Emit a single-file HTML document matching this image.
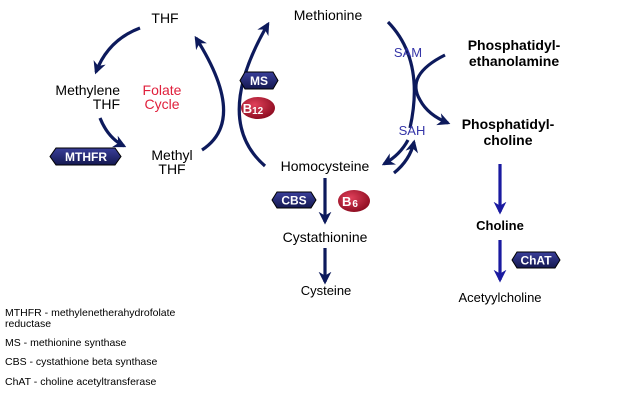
<!DOCTYPE html>
<html><head><style>
body{margin:0;background:#fff;}
svg text{font-family:"Liberation Sans",sans-serif;}
</style></head><body>
<svg width="642" height="401" viewBox="0 0 642 401" xmlns="http://www.w3.org/2000/svg">
<defs>
<marker id="a" viewBox="0 0 10 10" refX="8" refY="5" markerWidth="4" markerHeight="4" orient="auto"><path d="M0,0 L10,5 L0,10 L3,5z" fill="#0d1a5c"/></marker>
<marker id="b" viewBox="0 0 10 10" refX="8" refY="5" markerWidth="4" markerHeight="4" orient="auto"><path d="M0,0 L10,5 L0,10 L3,5z" fill="#1a1aa0"/></marker>
<radialGradient id="r" cx="0.4" cy="0.35" r="0.7"><stop offset="0" stop-color="#e0405a"/><stop offset="1" stop-color="#8a0a1e"/></radialGradient>
<linearGradient id="h" x1="0" y1="0" x2="0" y2="1"><stop offset="0" stop-color="#3a3f9a"/><stop offset="1" stop-color="#141850"/></linearGradient>
</defs>
<g fill="none" stroke="#0d1a5c" stroke-width="3.2">
<path d="M140,28 Q108,40 96,72" marker-end="url(#a)"/>
<path d="M100,118 Q108,138 124,146" marker-end="url(#a)"/>
<path d="M202,150 Q248,120 196,38" marker-end="url(#a)"/>
<path d="M265,166 Q212,120 268,24" marker-end="url(#a)"/>
<path d="M388,22 Q425,60 410,128"/>
<path d="M445,55 Q405,75 420,100 Q428,115 448,123" marker-end="url(#a)"/>
<path d="M408,140 Q400,155 384,164" marker-end="url(#a)"/>
<path d="M394,173 Q410,160 414,142" marker-end="url(#a)"/>
<path d="M325,178 L325,222" marker-end="url(#a)"/>
<path d="M325,248 L325,282" marker-end="url(#a)"/>
</g>
<g stroke="#1a1aa0" stroke-width="3.2">
<path d="M500,164 L500,212" marker-end="url(#b)"/>
<path d="M500,240 L500,280" marker-end="url(#b)"/>
</g>
<g font-size="14" fill="#000">
<text x="165" y="23" text-anchor="middle">THF</text>
<text x="120" y="95" text-anchor="end">Methylene</text>
<text x="120" y="109" text-anchor="end">THF</text>
<text x="172" y="160" text-anchor="middle">Methyl</text>
<text x="172" y="174" text-anchor="middle">THF</text>
<text x="328" y="20" text-anchor="middle">Methionine</text>
<text x="325" y="171" text-anchor="middle">Homocysteine</text>
<text x="325" y="242" text-anchor="middle">Cystathionine</text>
<text x="326" y="295" text-anchor="middle" font-size="13">Cysteine</text>
</g>
<g font-size="14" fill="#e0203c" text-anchor="middle">
<text x="162" y="95">Folate</text><text x="162" y="109">Cycle</text>
</g>
<g font-size="13" fill="#3535a8" text-anchor="middle">
<text x="408" y="57">SAM</text><text x="412" y="135">SAH</text>
</g>
<g font-size="14" font-weight="bold" fill="#000" text-anchor="middle">
<text x="514" y="50">Phosphatidyl-</text>
<text x="514" y="66">ethanolamine</text>
<text x="508" y="129">Phosphatidyl-</text>
<text x="508" y="145">choline</text>
<text x="500" y="230" font-size="13">Choline</text>
<text x="500" y="302" font-size="13" font-weight="normal">Acetyylcholine</text>
</g>
<g font-weight="bold" fill="#fff" font-size="12" text-anchor="middle">
<polygon points="50,156.5 56,148 115,148 121,156.5 115,165 56,165" fill="url(#h)" stroke="#000" stroke-width="1"/>
<text x="86" y="161">MTHFR</text>
<polygon points="240,80.5 245,72 273,72 278,80.5 273,89 245,89" fill="url(#h)" stroke="#000" stroke-width="1"/>
<text x="259" y="85">MS</text>
<polygon points="272,200 277,192 311,192 316,200 311,208 277,208" fill="url(#h)" stroke="#000" stroke-width="1"/>
<text x="294" y="204.5">CBS</text>
<polygon points="512,260 517,252 555,252 560,260 555,268 517,268" fill="url(#h)" stroke="#000" stroke-width="1"/>
<text x="536" y="264.5">ChAT</text>
<ellipse cx="258" cy="108" rx="17" ry="11" fill="url(#r)"/>
<text x="253" y="113" font-size="13">B<tspan font-size="10" dy="1">12</tspan></text>
<ellipse cx="354" cy="201" rx="16" ry="11" fill="url(#r)"/>
<text x="350" y="206" font-size="13">B<tspan font-size="10" dx="1" dy="1">6</tspan></text>
</g>
<g font-size="10.5" fill="#000">
<text x="5" y="316">MTHFR - methylenetherahydrofolate</text>
<text x="5" y="327">reductase</text>
<text x="5" y="346">MS - methionine synthase</text>
<text x="5" y="365">CBS - cystathione beta synthase</text>
<text x="5" y="385">ChAT - choline acetyltransferase</text>
</g>
</svg>
</body></html>
